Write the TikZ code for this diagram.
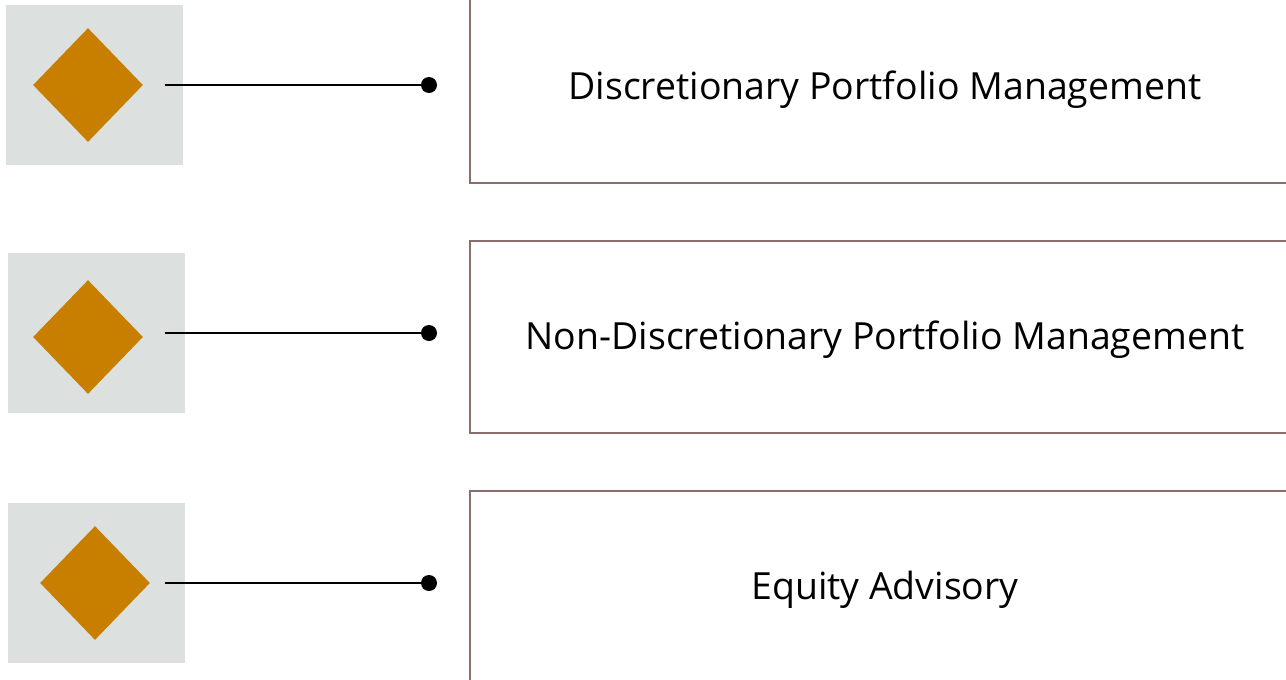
\documentclass[tikz,border=0pt]{standalone}
\usepackage{fontspec}
\setmainfont{Open Sans}
\usetikzlibrary{shapes.geometric}

\definecolor{tilegray}{HTML}{DCE1E0}
\definecolor{gemorange}{HTML}{C87F00}
\definecolor{boxbrown}{HTML}{8A6E6C}

\begin{document}
\begin{tikzpicture}[x=0.02cm, y=-0.02cm,
  tile/.style={fill=tilegray, draw=none, minimum width=3.54cm, minimum height=3.2cm, inner sep=0},
  gem/.style={diamond, fill=gemorange, draw=none, minimum width=2.2cm, minimum height=2.28cm, inner sep=0},
  pin/.style={circle, fill=black, minimum size=0.32cm, inner sep=0},
  service/.style={draw=boxbrown, line width=0.85pt, minimum width=16.6cm, minimum height=3.84cm,
    text height=0.7cm, text depth=0.19cm, font=\fontsize{21.3}{25}\selectfont}]
\clip (0,0) rectangle (1286,680);

\node[tile] (tile1) at (94.5,85) {};
\node[gem] (gem1) at (88,85) {};
\coordinate (start1) at (165,85);
\node[pin] (pin1) at (429,85) {};
\node[service] (service1) at (885,87) {Discretionary Portfolio Management};

\node[tile] (tile2) at (96.5,333) {};
\node[gem] (gem2) at (88,337) {};
\coordinate (start2) at (165,333);
\node[pin] (pin2) at (429,333) {};
\node[service] (service2) at (885,337) {Non-Discretionary Portfolio Management};

\node[tile] (tile3) at (96.5,583) {};
\node[gem] (gem3) at (95,583) {};
\coordinate (start3) at (165,583);
\node[pin] (pin3) at (429,583) {};
\node[service] (service3) at (885,587) {Equity Advisory};

\draw[line width=0.7pt] (start1) -- (pin1);
\draw[line width=0.7pt] (start2) -- (pin2);
\draw[line width=0.7pt] (start3) -- (pin3);
\end{tikzpicture}
\end{document}
